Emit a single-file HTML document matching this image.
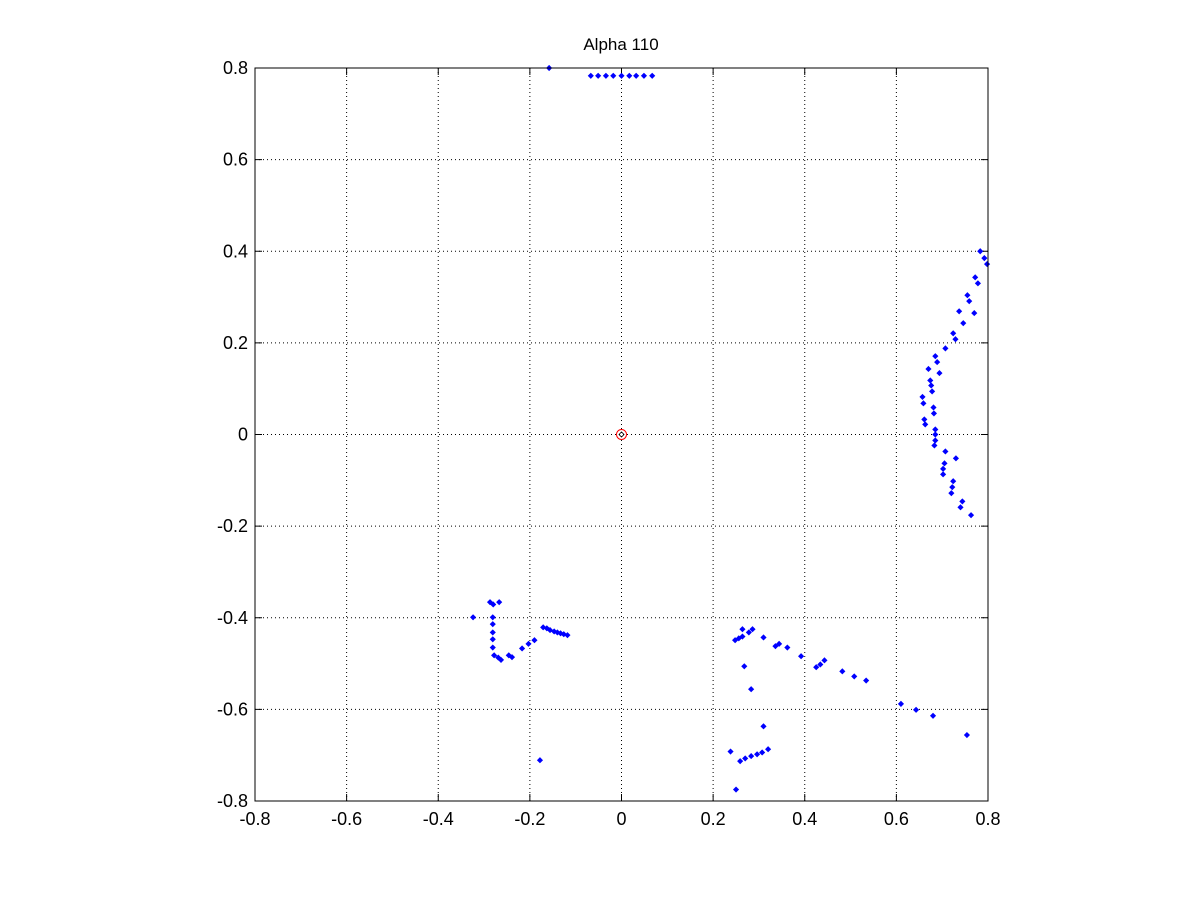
<!DOCTYPE html>
<html><head><meta charset="utf-8"><style>
html,body{margin:0;padding:0;background:#fff;}
svg{display:block;font-family:"Liberation Sans",Arial,sans-serif;}
</style></head><body>
<svg id="chart" width="1201" height="901" viewBox="0 0 1201 901">
<rect width="1201" height="901" fill="#fff"/>
<g id="grid"></g>
<g id="ticks"></g>
<g id="pts"></g>
<rect x="255" y="68" width="733" height="733" fill="none" stroke="#000" stroke-width="1"/>
<text x="621" y="50" font-size="17" text-anchor="middle">Alpha 110</text>
</svg>
<script>
const xTicks=[-0.8,-0.6,-0.4,-0.2,0,0.2,0.4,0.6,0.8];
const yTicks=[-0.8,-0.6,-0.4,-0.2,0,0.2,0.4,0.6,0.8];
const xs=[0.783,0.792,0.798,0.772,0.778,0.755,0.759,0.737,0.770,0.746,0.724,0.729,0.707,0.685,0.689,0.670,0.694,0.674,0.676,0.678,0.657,0.659,0.681,0.682,0.661,0.663,0.685,0.685,0.685,0.683,0.707,0.730,0.705,0.702,0.702,0.724,0.722,0.720,0.744,0.740,0.763,
-0.324,-0.287,-0.280,-0.267,-0.281,-0.281,-0.281,-0.281,-0.281,-0.278,-0.269,-0.263,-0.246,-0.239,-0.217,-0.203,-0.190,-0.171,-0.163,-0.156,-0.147,-0.140,-0.133,-0.126,-0.118,-0.178,
0.248,0.256,0.264,0.264,0.278,0.286,0.310,0.336,0.344,0.362,0.392,0.425,0.434,0.443,0.482,0.508,0.534,0.268,0.283,0.310,0.238,0.259,0.270,0.283,0.296,0.307,0.320,0.250,
0.610,0.643,0.680,0.754,
-0.158,-0.067,-0.051,-0.034,-0.018,0,0.017,0.032,0.049,0.067];
const ys=[0.400,0.385,0.372,0.343,0.330,0.304,0.291,0.269,0.265,0.243,0.221,0.208,0.188,0.171,0.158,0.143,0.134,0.118,0.107,0.094,0.082,0.068,0.059,0.046,0.033,0.022,0.011,0.000,-0.013,-0.024,-0.037,-0.052,-0.063,-0.075,-0.087,-0.102,-0.115,-0.128,-0.146,-0.159,-0.176,
-0.399,-0.366,-0.371,-0.366,-0.399,-0.414,-0.432,-0.447,-0.465,-0.482,-0.487,-0.492,-0.482,-0.486,-0.467,-0.457,-0.449,-0.421,-0.423,-0.427,-0.430,-0.432,-0.434,-0.436,-0.438,-0.711,
-0.449,-0.445,-0.441,-0.425,-0.432,-0.425,-0.443,-0.462,-0.457,-0.465,-0.484,-0.508,-0.502,-0.493,-0.517,-0.528,-0.537,-0.506,-0.556,-0.637,-0.692,-0.713,-0.707,-0.702,-0.698,-0.694,-0.687,-0.775,
-0.588,-0.601,-0.614,-0.656,
0.800,0.783,0.783,0.783,0.783,0.783,0.783,0.783,0.783,0.783];
const centerPt=[0,0];
const NS="http://www.w3.org/2000/svg";
const X0=255,X1=988,Y0=801,Y1=68;
function sx(v){return X0+(v+0.8)/1.6*(X1-X0);}
function sy(v){return Y0-(v+0.8)/1.6*(Y0-Y1);}
function mk(t,a,p){const e=document.createElementNS(NS,t);for(const k in a)e.setAttribute(k,a[k]);p.appendChild(e);return e;}
const grid=document.getElementById('grid'),ticks=document.getElementById('ticks'),pts=document.getElementById('pts');
xTicks.forEach(v=>{
  const x=sx(v);
  if(v>-0.8&&v<0.8){const l=mk('line',{x1:x,x2:x,y1:Y1,y2:Y0,stroke:'#000','stroke-width':1,'stroke-dasharray':'1,3'},grid);
  
  }
  mk('line',{x1:x,x2:x,y1:Y0,y2:Y0-7,stroke:'#000'},ticks);
  mk('line',{x1:x,x2:x,y1:Y1,y2:Y1+7,stroke:'#000'},ticks);
  const t=mk('text',{x:x,y:Y0+24,'font-size':18,'text-anchor':'middle'},ticks);
  t.textContent=(v===0?'0':v.toFixed(1));
  
  
});
yTicks.forEach(v=>{
  const y=sy(v);
  if(v>-0.8&&v<0.8){const l=mk('line',{x1:X0,x2:X1,y1:y,y2:y,stroke:'#000','stroke-width':1,'stroke-dasharray':'1,3'},grid);
  
  }
  mk('line',{x1:X0,x2:X0+7,y1:y,y2:y,stroke:'#000'},ticks);
  mk('line',{x1:X1,x2:X1-7,y1:y,y2:y,stroke:'#000'},ticks);
  const t=mk('text',{x:X0-7,y:y+6,'font-size':18,'text-anchor':'end'},ticks);
  t.textContent=(v===0?'0':v.toFixed(1));
  
  
});
for(let i=0;i<xs.length;i++){
  const x=sx(xs[i]),y=sy(ys[i]);
  const p=mk('path',{d:`M${x-2.5},${y}L${x},${y-2.5}L${x+2.5},${y}L${x},${y+2.5}Z`,fill:'#0000ff',stroke:'#0000ff','stroke-width':0.8},pts);
  
  
}
const c=mk('circle',{cx:sx(centerPt[0]),cy:sy(centerPt[1]),r:5,fill:'none',stroke:'#ff0000','stroke-width':1},pts);


const cd=mk('path',{d:`M${sx(0)-2.5},${sy(0)}L${sx(0)},${sy(0)-2.5}L${sx(0)+2.5},${sy(0)}L${sx(0)},${sy(0)+2.5}Z`,fill:'none',stroke:'#000','stroke-width':0.8},pts);


</script>
</body></html>
